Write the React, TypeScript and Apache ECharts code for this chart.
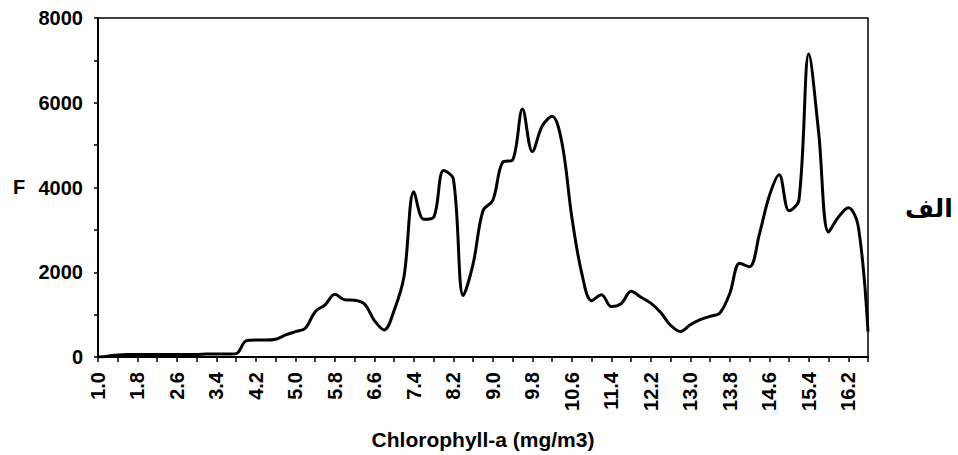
import React, { useEffect, useRef } from "react";
import * as echarts from "echarts";

const categories: string[] = [
  "1.0","1.2","1.4","1.6","1.8","2.0","2.2","2.4","2.6","2.8",
  "3.0","3.2","3.4","3.6","3.8","4.0","4.2","4.4","4.6","4.8",
  "5.0","5.2","5.4","5.6","5.8","6.0","6.2","6.4","6.6","6.8",
  "7.0","7.2","7.4","7.6","7.8","8.0","8.2","8.4","8.6","8.8",
  "9.0","9.2","9.4","9.6","9.8","10.0","10.2","10.4","10.6","10.8",
  "11.0","11.2","11.4","11.6","11.8","12.0","12.2","12.4","12.6","12.8",
  "13.0","13.2","13.4","13.6","13.8","14.0","14.2","14.4","14.6","14.8",
  "15.0","15.2","15.4","15.6","15.8","16.0","16.2","16.4","16.6",
];

const fValues: number[] = [
  0, 20, 50, 60, 60, 60, 60, 60, 60, 60,
  60, 70, 70, 70, 80, 380, 400, 400, 420, 520,
  600, 680, 1070, 1230, 1480, 1350, 1340, 1250, 860, 640,
  1100, 1900, 3900, 3250, 3300, 4400, 4200, 1450, 2200, 3450,
  3700, 4600, 4650, 5850, 4850, 5450, 5680, 5050, 3300, 1980,
  1330, 1470, 1190, 1260, 1550, 1410, 1270, 1050, 750, 600,
  760, 880, 960, 1040, 1500, 2210, 2130, 2900, 3800, 4300,
  3450, 3700, 7150, 5300, 2950, 3300, 3520, 3100, 600,
];

const xTitle = "Chlorophyll-a (mg/m3)";
const yTitle = "F";
const sideNote = "الف";

export default function App() {
  const ref = useRef<HTMLDivElement>(null);
  useEffect(() => {
    if (!ref.current) return;
    const chart = echarts.init(ref.current, undefined, { renderer: "svg" });
    const font = "'Liberation Sans', Arial, sans-serif";
    chart.setOption({
      animation: false,
      backgroundColor: "#ffffff",
      grid: {
        left: 98,
        top: 18,
        right: 90,
        bottom: 98,
        show: true,
        borderColor: "#000",
        borderWidth: 1.5,
        backgroundColor: "transparent",
      },
      xAxis: {
        type: "category",
        data: categories,
        boundaryGap: false,
        name: xTitle,
        nameLocation: "middle",
        nameGap: 72,
        nameTextStyle: { color: "#000", fontFamily: font, fontWeight: "bold", fontSize: 21 },
        axisLine: { lineStyle: { color: "#000", width: 2 } },
        axisTick: { show: true, interval: 1, length: 5, lineStyle: { color: "#000", width: 1.5 } },
        axisLabel: {
          interval: 3,
          rotate: 90,
          margin: 15,
          color: "#000",
          fontFamily: font,
          fontWeight: "bold",
          fontSize: 20,
        },
        splitLine: { show: false },
      },
      yAxis: {
        type: "value",
        min: 0,
        max: 8000,
        interval: 2000,
        axisLine: { show: true, lineStyle: { color: "#000", width: 2 } },
        axisTick: { show: true, length: 4, lineStyle: { color: "#000", width: 1.5 } },
        minorTick: { show: true, splitNumber: 2, length: 4, lineStyle: { color: "#000", width: 1.5 } },
        axisLabel: {
          margin: 15,
          color: "#000",
          fontFamily: font,
          fontWeight: "bold",
          fontSize: 20,
          formatter: (v: number) => String(v),
        },
        splitLine: { show: false },
      },
      series: [
        {
          type: "line",
          data: fValues,
          smooth: 0.35,
          symbol: "none",
          lineStyle: { color: "#000", width: 3 },
        },
      ],
      graphic: [
        {
          type: "text",
          left: 13,
          top: 177,
          style: { text: yTitle, fill: "#000", font: `bold 20px ${font}` },
        },
        {
          type: "text",
          left: 905,
          top: 196,
          style: { text: sideNote, fill: "#000", font: "bold 25px 'DejaVu Sans', sans-serif" },
        },
      ],
    });
    return () => chart.dispose();
  }, []);
  return <div ref={ref} style={{ width: 958, height: 455, position: "fixed", left: 0, top: 0 }} />;
}
